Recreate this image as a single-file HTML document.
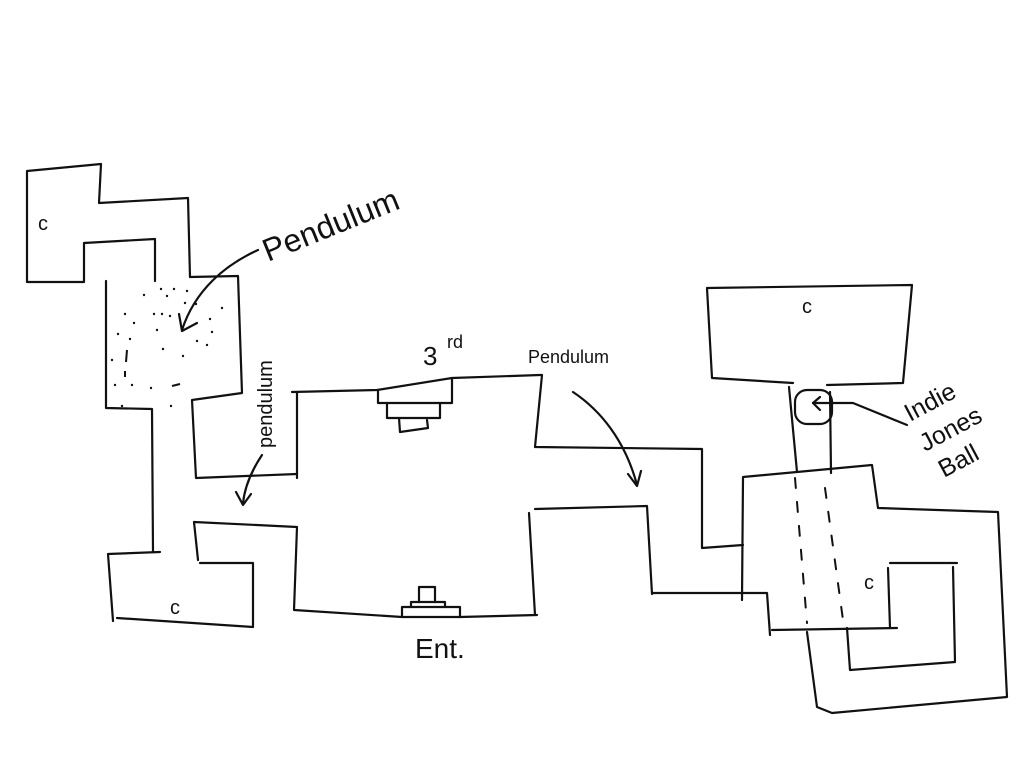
<!DOCTYPE html>
<html><head><meta charset="utf-8"><style>
html,body{margin:0;padding:0;background:#fff;}
svg{display:block;}
text{font-family:"Liberation Sans",sans-serif;fill:#111;}
</style></head><body>
<svg width="1024" height="768" viewBox="0 0 1024 768" xmlns="http://www.w3.org/2000/svg">
<g fill="none" stroke="#111" stroke-width="2.2" stroke-linejoin="round" stroke-linecap="round">
<polyline points="190,277 188,198 99,203 101,164 27,171 27,282 84,282 84,243 155,239 155,281"/>
<polyline points="190,277 238,276 242,393 192,400 196,478 297,474"/>
<polyline points="106,281 106,408 152,409 153,552"/>
<polyline points="160,552 108,554 113,621"/>
<polyline points="117,618 253,627 253,563 200,563"/>
<polyline points="198,560 194,522 297,527 294,610 402,617 460,617 537,615"/>
<polyline points="297,392 297,478"/>
<polyline points="292,392 377,390 452,378 540,375 542,375 535,447 702,449 702,548 743,545"/>
<polyline points="535,615 529,513"/>
<polyline points="535,509 647,506 652,594 653,593 767,593 770,635"/>
<polyline points="378,390 378,403 452,403 452,378"/>
<polyline points="387,403 387,418 440,418 440,403"/>
<polyline points="399,418 400,432 428,428 427,420"/>
<polyline points="402,617 402,607 460,607 460,617"/>
<polyline points="411,607 411,602 445,602 445,607"/>
<polyline points="419,602 419,587 435,587 435,602"/>
<polyline points="793,383 712,378 707,288 912,285 903,383 827,385"/>
<polyline points="789,387 797,472"/>
<polyline points="830,392 831,473"/>
<rect x="795" y="390" width="37" height="34" rx="12"/>
<polyline points="742,600 743,477 872,465 878,508 998,512 1007,697 832,713 817,707 807,632"/>
<polyline points="772,630 897,628"/>
<polyline points="888,568 890,628"/>
<polyline points="890,563 957,563"/>
<polyline points="953,567 955,662 850,670 847,628"/>
<line x1="795" y1="478" x2="807" y2="623" stroke-dasharray="10,14" stroke-width="2"/>
<line x1="825" y1="488" x2="843" y2="620" stroke-dasharray="10,14" stroke-width="2"/>
<path d="M258,250 C225,265 195,290 182,330"/>
<polyline points="179,314 182,331 197,323"/>
<path d="M262,455 C252,470 245,485 243,503"/>
<polyline points="236,492 243,505 251,494"/>
<path d="M573,392 C600,410 625,440 637,485"/>
<polyline points="628,474 637,486 641,471"/>
<polyline points="907,425 853,403 813,403"/>
<polyline points="820,397 813,403 820,410"/>
</g>
<g fill="#111">
<circle cx="144" cy="295" r="1.2"/><circle cx="161" cy="289" r="1.2"/><circle cx="167" cy="296" r="1.2"/><circle cx="174" cy="289" r="1.2"/><circle cx="187" cy="291" r="1.2"/>
<circle cx="125" cy="314" r="1.2"/><circle cx="154" cy="314" r="1.2"/><circle cx="162" cy="314" r="1.2"/><circle cx="170" cy="316" r="1.2"/><circle cx="185" cy="303" r="1.2"/><circle cx="196" cy="304" r="1.2"/><circle cx="222" cy="308" r="1.2"/>
<circle cx="134" cy="323" r="1.2"/><circle cx="157" cy="330" r="1.2"/><circle cx="210" cy="319" r="1.2"/><circle cx="212" cy="332" r="1.2"/><circle cx="118" cy="334" r="1.2"/><circle cx="130" cy="339" r="1.2"/><circle cx="197" cy="341" r="1.2"/><circle cx="207" cy="345" r="1.2"/>
<circle cx="163" cy="349" r="1.2"/><circle cx="183" cy="356" r="1.2"/><circle cx="112" cy="360" r="1.2"/><circle cx="115" cy="385" r="1.2"/><circle cx="132" cy="385" r="1.2"/><circle cx="151" cy="388" r="1.2"/><circle cx="171" cy="406" r="1.2"/><circle cx="122" cy="406" r="1.2"/>
</g>
<g stroke="#111" stroke-width="2" fill="none"><line x1="127" y1="350" x2="126" y2="362"/><line x1="125" y1="371" x2="125" y2="377"/><line x1="172" y1="386" x2="180" y2="384"/></g>
<text x="38" y="230" font-size="20">c</text>
<text x="170" y="614" font-size="20">c</text>
<text x="802" y="313" font-size="20">c</text>
<text x="864" y="589" font-size="20">c</text>
<text x="268" y="262" font-size="32" transform="rotate(-22 268 262)" style="font-weight:300">Pendulum</text>
<text x="272" y="448" font-size="20" transform="rotate(-90 272 448)">pendulum</text>
<text x="423" y="365" font-size="26" style="font-weight:300">3</text>
<text x="447" y="348" font-size="18">rd</text>
<text x="528" y="363" font-size="18">Pendulum</text>
<text x="415" y="658" font-size="28" style="font-weight:300">Ent.</text>
<text x="910" y="422" font-size="25" transform="rotate(-28 910 422)">Indie</text>
<text x="925" y="452" font-size="25" transform="rotate(-28 925 452)">Jones</text>
<text x="944" y="478" font-size="25" transform="rotate(-28 944 478)">Ball</text>
</svg>
</body></html>
